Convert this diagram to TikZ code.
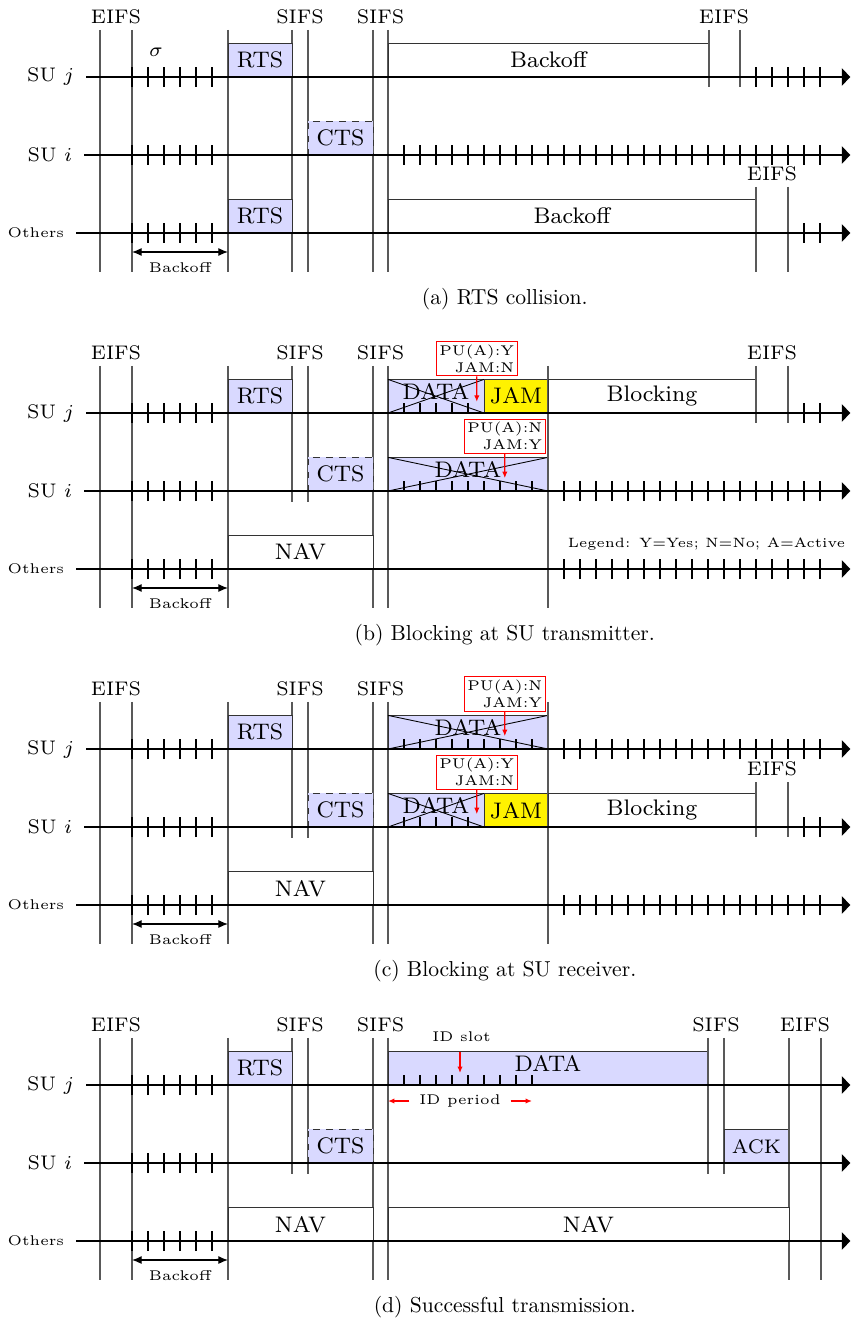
\documentclass[tikz,border=0pt]{standalone}
\usepackage{tikz}
\usetikzlibrary{arrows.meta}

% slot marks on a time axis: y, first slot, last slot
\newcommand{\slots}[3]{\foreach \s in {#2,...,#3} \draw[tick] (\s,#1-0.125) -- (\s,#1+0.125);}
% slot marks inside a DATA frame
\newcommand{\upslots}[3]{\foreach \s in {#2,...,#3} \draw[tick] (\s,#1) -- (\s,#1+0.13);}
% frame: [style] x1, x2, base, name, text
\newcommand{\frm}[6][ctrlbox]{%
  \draw[#1] (#2,#4) rectangle (#3,#4+0.42);
  \node[boxtxt] (#5) at ({(#2+#3)/2},#4+0.21) {#6};}
% lost DATA frame: x1, x2, base, name
\newcommand{\lost}[4]{%
  \draw[ctrlbox] (#1,#3) rectangle (#2,#3+0.42);
  \draw (#1,#3) -- (#2,#3+0.42) (#1,#3+0.42) -- (#2,#3);
  \node[boxtxt] (#4) at ({(#1+#2)/2},#3+0.27) {DATA};}
% what all four cases share: tag, bottom of the SIFS lines
\newcommand{\panelbase}[2]{%
  \foreach \t in {0,2,8,17.06,18}
    \draw[vline] (\t,0.59) -- (\t,-2.44);
  \foreach \t in {12,13}
    \draw[vline] (\t,0.59) -- (\t,#2);
  \node[timelbl] (#1eifs) at (1,0.59) {EIFS};
  \node[timelbl] (#1sifs1) at (12.5,0.59) {SIFS};
  \node[timelbl] (#1sifs2) at (17.53,0.59) {SIFS};
  \node[rowlbl] (#1suj) at (-0.875,0) {SU $j$};
  \node[rowlbl] (#1sui) at (-1,-0.975) {SU $i$};
  \node[rowlbl, font=\tiny] (#1oth) at (-1.5,-1.95) {Others};
  \frm{8}{12}{0}{#1rts}{RTS}
  \frm[ctsbox]{13}{17.06}{-0.975}{#1cts}{CTS}
  \slots{0}{2}{7}
  \slots{-0.975}{2}{7}
  \slots{-1.95}{2}{7}
  \coordinate (#1bs) at (2,-2.1875);
  \coordinate (#1be) at (8,-2.1875);
  \draw[bkarrow] (#1bs) -- node[smalltxt, below] (#1bk) {Backoff} (#1be);
}
\newcommand{\panelaxes}[1]{%
  \draw[axis] (#1suj.east) -- (46.9,0);
  \draw[axis] (#1sui.east) -- (46.9,-0.975);
  \draw[axis] (#1oth.east) -- (46.9,-1.95);
}

\begin{document}
\begin{tikzpicture}[x=2.6mm, y=13mm,
    axis/.style={thick, -{Triangle[length=4pt, width=8pt]}},
    vline/.style={black!65, semithick},
    tick/.style={semithick},
    ctrlbox/.style={draw=black!80, fill=blue!15},
    ctsbox/.style={ctrlbox, dashed},
    jambox/.style={draw=black!80, fill=yellow},
    waitbox/.style={draw=black!80, fill=white},
    boxtxt/.style={font=\footnotesize, scale=1.3, inner sep=1pt},
    timelbl/.style={font=\scriptsize, scale=1.3, above, inner sep=2pt},
    rowlbl/.style={font=\scriptsize, scale=1.3, anchor=east, inner xsep=4pt},
    smalltxt/.style={font=\tiny, scale=1.3},
    pubox/.style={draw=red, thin, fill=white, font=\tiny, scale=1.3, align=right, inner sep=1.2pt},
    redarrow/.style={red, semithick, -{Latex[length=3pt, width=2.5pt]}},
    bkarrow/.style={semithick, {Latex[length=4.5pt, width=3.8pt]}-{Latex[length=4.5pt, width=3.8pt]}},
    subcap/.style={font=\normalsize}
]
\useasboundingbox (-6.25,0.9625) rectangle (46.94,-15.575);

% (a) RTS collision
\panelbase{a}{-2.44}
\frm{8}{12}{-1.95}{arts2}{RTS}
\frm[waitbox]{18}{38.06}{0}{abkj}{Backoff}
\frm[waitbox]{18}{41}{-1.95}{abko}{Backoff}
\draw[vline] (38.06,0.59) -- (38.06,-0.125);
\draw[vline] (40,0.59) -- (40,-0.125);
\node[timelbl] (aeifsj) at (39,0.59) {EIFS};
\draw[vline] (41,-1.375) -- (41,-2.44);
\draw[vline] (43,-1.375) -- (43,-2.44);
\node[timelbl] (aeifso) at (42,-1.375) {EIFS};
\slots{0}{41}{45}
\slots{-0.975}{19}{45}
\slots{-1.95}{44}{45}
\node[font=\scriptsize, scale=1.3] (asigma) at (3.5,0.31) {$\sigma$};
\panelaxes{a}
\node[subcap] (capa) at (25.3,-2.775) {(a) RTS collision.};

% (b) Blocking at SU transmitter
\begin{scope}[shift={(0,-4.2)}]
\panelbase{b}{-1.1125}
\frm[waitbox]{8}{17.06}{-1.95}{bnav}{NAV}
\lost{18}{24}{0}{bdataj}
\upslots{0}{19}{23}
\frm[jambox]{24}{28}{0}{bjam}{JAM}
\lost{18}{28}{-0.975}{bdatai}
\upslots{-0.975}{19}{27}
\draw[vline] (28,0.59) -- (28,-2.44);
\frm[waitbox]{28}{41}{0}{bblk}{Blocking}
\draw[vline] (41,0.59) -- (41,-0.125);
\draw[vline] (43,0.59) -- (43,-0.125);
\node[timelbl] (beifsj) at (42,0.59) {EIFS};
\slots{0}{44}{45}
\slots{-0.975}{29}{45}
\slots{-1.95}{29}{45}
\node[smalltxt, scale=0.96, anchor=west] (blegend) at (28.65,-1.64) {Legend: Y=Yes; N=No; A=Active};
\panelaxes{b}
\coordinate (bhitj) at (23.55,0.14);
\node[pubox] (bpuj) at (23.55,0.68) {PU(A):Y\\JAM:N};
\draw[redarrow] (bpuj) -- (bhitj);
\coordinate (bhiti) at (25.3,-0.815);
\node[pubox] (bpui) at (25.3,-0.29) {PU(A):N\\JAM:Y};
\draw[redarrow] (bpui) -- (bhiti);
\node[subcap] (capb) at (25.3,-2.775) {(b) Blocking at SU transmitter.};
\end{scope}

% (c) Blocking at SU receiver
\begin{scope}[shift={(0,-8.4)}]
\panelbase{c}{-1.1125}
\frm[waitbox]{8}{17.06}{-1.95}{cnav}{NAV}
\lost{18}{28}{0}{cdataj}
\upslots{0}{19}{27}
\lost{18}{24}{-0.975}{cdatai}
\upslots{-0.975}{19}{23}
\frm[jambox]{24}{28}{-0.975}{cjam}{JAM}
\draw[vline] (28,0.59) -- (28,-2.44);
\frm[waitbox]{28}{41}{-0.975}{cblk}{Blocking}
\draw[vline] (41,-0.4125) -- (41,-1.1);
\draw[vline] (43,-0.4125) -- (43,-1.1);
\node[timelbl] (ceifsi) at (42,-0.4125) {EIFS};
\slots{0}{29}{45}
\slots{-0.975}{44}{45}
\slots{-1.95}{29}{45}
\panelaxes{c}
\coordinate (chitj) at (25.3,0.16);
\node[pubox] (cpuj) at (25.3,0.69) {PU(A):N\\JAM:Y};
\draw[redarrow] (cpuj) -- (chitj);
\coordinate (chiti) at (23.55,-0.815);
\node[pubox] (cpui) at (23.55,-0.29) {PU(A):Y\\JAM:N};
\draw[redarrow] (cpui) -- (chiti);
\node[subcap] (capc) at (25.3,-2.775) {(c) Blocking at SU receiver.};
\end{scope}

% (d) Successful transmission
\begin{scope}[shift={(0,-12.6)}]
\panelbase{d}{-1.1125}
\frm[waitbox]{8}{17.06}{-1.95}{dnav1}{NAV}
\draw[ctrlbox] (18,0) rectangle (38,0.42);
\upslots{0}{19}{27}
\node[boxtxt] (ddata) at (28,0.27) {DATA};
\draw[vline] (38,0.59) -- (38,-1.1125);
\draw[vline] (39,0.59) -- (39,-1.1125);
\node[timelbl] (dsifs3) at (38.5,0.59) {SIFS};
\draw[ctrlbox] (39,-0.975) rectangle (43.06,-0.555);
\node[boxtxt, font=\scriptsize] (dack) at (41.03,-0.765) {ACK};
\draw[vline] (43.06,0.59) -- (43.06,-2.44);
\draw[vline] (45.06,0.59) -- (45.06,-2.44);
\node[timelbl] (deifs2) at (44.06,0.59) {EIFS};
\frm[waitbox]{18}{43.06}{-1.95}{dnav2}{NAV}
\panelaxes{d}
\coordinate (dhit) at (22.5,0.15);
\node[smalltxt] (dslot) at (22.6,0.6) {ID slot};
\draw[redarrow] (dslot.south -| dhit) -- (dhit);
\coordinate (dps) at (18,-0.2);
\coordinate (dpe) at (27,-0.2);
\node[smalltxt] (dper) at (22.5,-0.2) {ID period};
\draw[redarrow] (dper) -- (dps);
\draw[redarrow] (dper) -- (dpe);
\node[subcap] (capd) at (25.3,-2.775) {(d) Successful transmission.};
\end{scope}
\end{tikzpicture}
\end{document}
